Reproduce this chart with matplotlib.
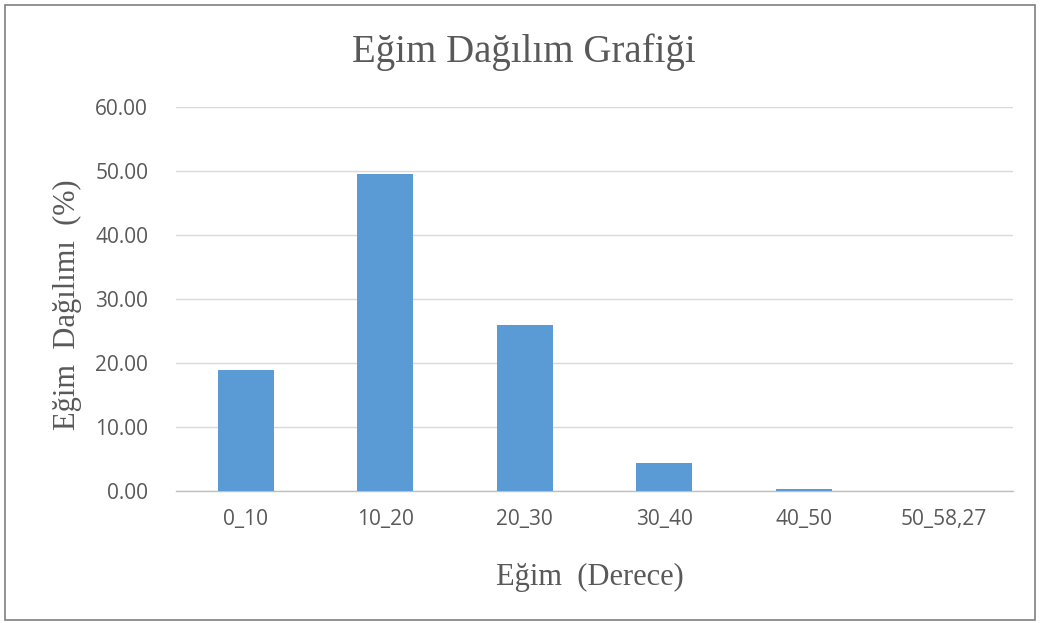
import matplotlib
matplotlib.use("Agg")
import matplotlib.pyplot as plt
from matplotlib.patches import Rectangle

categories = ["0_10", "10_20", "20_30", "30_40", "40_50", "50_58,27"]
values = [18.9, 49.6, 26.0, 4.4, 0.35, 0.02]
yticks = [0, 10, 20, 30, 40, 50, 60]
title = "Eğim Dağılım Grafiği"
xlabel = "Eğim  (Derece)"
ylabel = "Eğim  Dağılımı  (%)"

W, H = 1040, 623
fig = plt.figure(figsize=(W / 100, H / 100), dpi=100)
fig.patch.set_facecolor("white")

left, right = 176, 1013
y0, y60 = 491, 107
ax = fig.add_axes([left / W, 1 - y0 / H, (right - left) / W, (y0 - y60) / H])
ax.set_facecolor("white")

x = list(range(len(categories)))
ax.bar(x, values, width=0.4, color="#5B9BD5", zorder=3)
ax.set_xlim(-0.5, len(categories) - 0.5)
ax.set_ylim(0, 60)
ax.set_yticks(yticks)
ax.set_yticklabels([f"{v:.2f}" for v in yticks])
ax.set_xticks(x)
ax.set_xticklabels(categories)

for lab in ax.get_yticklabels() + ax.get_xticklabels():
    lab.set_fontfamily(["Open Sans", "DejaVu Sans"])
    lab.set_fontsize(15)
    lab.set_color("#595959")

ax.tick_params(axis="both", length=0)
ax.tick_params(axis="y", pad=20)
ax.tick_params(axis="x", pad=13)
ax.grid(axis="y", color="#D9D9D9", linewidth=1, zorder=0)
for s in ["top", "right", "left"]:
    ax.spines[s].set_visible(False)
ax.spines["bottom"].set_color("#BFBFBF")
ax.spines["bottom"].set_linewidth(1)

serif = ["Liberation Serif", "DejaVu Serif"]
fig.text(524 / W, 1 - 52 / H, title, ha="center", va="center",
         fontfamily=serif, fontsize=28, color="#595959")
fig.text(590 / W, 1 - 577 / H, xlabel, ha="center", va="center",
         fontfamily=serif, fontsize=22, color="#595959")
fig.text(67 / W, 1 - 305 / H, ylabel, ha="center", va="center", rotation=90,
         fontfamily=serif, fontsize=22, color="#595959")

fig.patches.append(Rectangle((5 / W, 1 - 620 / H), 1030 / W, 615 / H,
                             transform=fig.transFigure, fill=False,
                             edgecolor="#7F7F7F", linewidth=1.2))

fig.savefig("out.png", dpi=100, facecolor="white")
